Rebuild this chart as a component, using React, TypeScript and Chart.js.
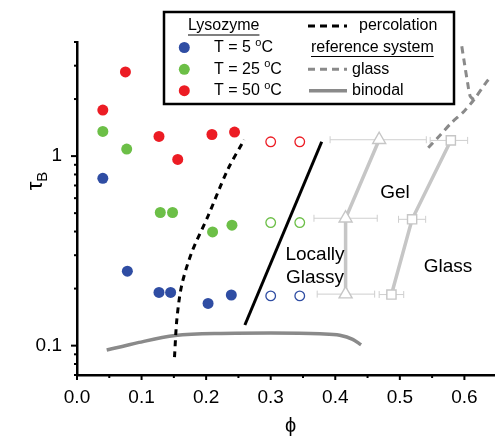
import React, { useEffect, useRef } from "react";
import { Chart, registerables } from "chart.js";
Chart.register(...registerables);

// Lysozyme data (filled circles)
const lyso5Phi = [0.04, 0.078, 0.127, 0.145, 0.203, 0.239];
const lyso5Tau = [0.763, 0.247, 0.191, 0.191, 0.167, 0.185];
const lyso25Phi = [0.04, 0.077, 0.129, 0.148, 0.21, 0.24];
const lyso25Tau = [1.35, 1.09, 0.504, 0.504, 0.398, 0.432];
const lyso50Phi = [0.04, 0.075, 0.127, 0.156, 0.209, 0.244];
const lyso50Tau = [1.75, 2.78, 1.27, 0.96, 1.3, 1.34];
// open circles
const openPhi = [0.3, 0.345];
const open5Tau = [0.183, 0.183];
const open25Tau = [0.446, 0.446];
const open50Tau = [1.19, 1.19];
// reference gel (triangles) and glass (squares) with horizontal error bars
const gelPhi = [0.468, 0.416, 0.416];
const gelTau = [1.22, 0.47, 0.187];
const gelPhiLow = [0.392, 0.367, 0.372];
const gelPhiHigh = [0.541, 0.465, 0.461];
const glassPhi = [0.579, 0.519, 0.487];
const glassTau = [1.21, 0.464, 0.186];
const glassPhiLow = [0.547, 0.498, 0.468];
const glassPhiHigh = [0.605, 0.54, 0.506];
// lines
const percPhi = [0.151, 0.1547, 0.162, 0.1776, 0.203, 0.2336, 0.259];
const percTau = [0.0869, 0.138, 0.207, 0.31, 0.483, 0.851, 1.22];
const locGlassyPhi = [0.26, 0.379];
const locGlassyTau = [0.1285, 1.19];
const binodalPhi = [0.046, 0.07, 0.096, 0.152, 0.223, 0.3, 0.376, 0.407, 0.427, 0.44];
const binodalTau = [0.0949, 0.099, 0.104, 0.113, 0.116, 0.1165, 0.1155, 0.1135, 0.108, 0.101];
const refGlassPhiA = [0.544, 0.562, 0.58, 0.6, 0.615, 0.633, 0.638];
const refGlassTauA = [1.107, 1.285, 1.5, 1.73, 1.99, 2.43, 2.55];
const refGlassPhiB = [0.614, 0.609, 0.605, 0.6, 0.595];
const refGlassTauB = [1.99, 2.07, 2.43, 3.1, 3.98];
// ticks
const xMajorTicks = [0, 0.1, 0.2, 0.3, 0.4, 0.5, 0.6];
const xMinorTicks = [0.05, 0.15, 0.25, 0.35, 0.45, 0.55];
const yMajorTicks = [0.1, 1];
const yMinorTicks = [0.07, 0.08, 0.09, 0.2, 0.3, 0.4, 0.5, 0.6, 0.7, 0.8, 0.9, 2, 3, 4];

const BLUE = "#2f4da3";
const GREEN = "#6cbf47";
const RED = "#ec1c24";
const LGRAY = "#c6c6c6";
const DGRAY = "#8a8a8a";
const FONT = "'Liberation Sans', Arial, sans-serif";

const pts = (xs: number[], ys: number[]) => xs.map((x, i) => ({ x, y: ys[i] }));

export default function App() {
  const ref = useRef<HTMLCanvasElement>(null);
  useEffect(() => {
    const canvas = ref.current!;
    const dec = {
      id: "dec",
      beforeDatasetsDraw(chart: any) {
        const ctx = chart.ctx;
        const xs = chart.scales.x, ys = chart.scales.y;
        ctx.save();
        ctx.strokeStyle = "#cfcfcf";
        ctx.lineWidth = 1;
        const bars = (p: number[], t: number[], lo: number[], hi: number[]) => {
          p.forEach((_, i) => {
            const y = ys.getPixelForValue(t[i]);
            const x1 = xs.getPixelForValue(lo[i]);
            const x2 = xs.getPixelForValue(hi[i]);
            ctx.beginPath();
            ctx.moveTo(x1, y); ctx.lineTo(x2, y);
            ctx.moveTo(x1, y - 3.5); ctx.lineTo(x1, y + 3.5);
            ctx.moveTo(x2, y - 3.5); ctx.lineTo(x2, y + 3.5);
            ctx.stroke();
          });
        };
        bars(gelPhi, gelTau, gelPhiLow, gelPhiHigh);
        bars(glassPhi, glassTau, glassPhiLow, glassPhiHigh);
        ctx.restore();
      },
      afterDraw(chart: any) {
        const ctx = chart.ctx;
        const xs = chart.scales.x, ys = chart.scales.y;
        const ca = chart.chartArea;
        ctx.save();
        // tick marks
        ctx.strokeStyle = "#000";
        ctx.lineWidth = 2;
        xMajorTicks.forEach((v) => {
          const x = xs.getPixelForValue(v);
          ctx.beginPath(); ctx.moveTo(x, ca.bottom); ctx.lineTo(x, ca.bottom + 5); ctx.stroke();
        });
        xMinorTicks.forEach((v) => {
          const x = xs.getPixelForValue(v);
          ctx.beginPath(); ctx.moveTo(x, ca.bottom); ctx.lineTo(x, ca.bottom + 3); ctx.stroke();
        });
        yMajorTicks.forEach((v) => {
          const y = ys.getPixelForValue(v);
          ctx.beginPath(); ctx.moveTo(ca.left, y); ctx.lineTo(ca.left - 6, y); ctx.stroke();
        });
        yMinorTicks.forEach((v) => {
          const y = ys.getPixelForValue(v);
          ctx.beginPath(); ctx.moveTo(ca.left, y); ctx.lineTo(ca.left - 3, y); ctx.stroke();
        });
        // axis titles
        ctx.fillStyle = "#000";
        ctx.textAlign = "center";
        ctx.textBaseline = "middle";
        ctx.font = `20px ${FONT}`;
        ctx.fillText("\u03D5", (ca.left + ca.right) / 2 + 5, 426);
        ctx.save();
        ctx.translate(38, 181);
        ctx.rotate(-Math.PI / 2);
        ctx.textAlign = "left";
        ctx.font = `22px ${FONT}`;
        const tw = ctx.measureText("\u03C4").width;
        ctx.font = `15px ${FONT}`;
        const bw = ctx.measureText("B").width;
        const start = -(tw + bw) / 2;
        ctx.font = `22px ${FONT}`;
        ctx.fillText("\u03C4", start, -2);
        ctx.font = `15px ${FONT}`;
        ctx.fillText("B", start + tw, 5);
        ctx.restore();
        // region annotations
        ctx.font = `19px ${FONT}`;
        ctx.textAlign = "center";
        ctx.fillText("Gel", 395, 193);
        ctx.fillText("Locally", 315, 255);
        ctx.fillText("Glassy", 315, 278);
        ctx.fillText("Glass", 448, 267);
        // legend
        ctx.fillStyle = "#fff";
        ctx.fillRect(164, 12, 290, 92);
        ctx.strokeStyle = "#000";
        ctx.lineWidth = 2.5;
        ctx.strokeRect(164, 12, 290, 92);
        ctx.fillStyle = "#000";
        ctx.textAlign = "left";
        ctx.textBaseline = "middle";
        ctx.font = `16px ${FONT}`;
        const underline = (txt: string, x: number, y: number) => {
          ctx.fillText(txt, x, y);
          const w = ctx.measureText(txt).width;
          ctx.lineWidth = 1.2;
          ctx.beginPath(); ctx.moveTo(x, y + 9); ctx.lineTo(x + w, y + 9); ctx.stroke();
        };
        underline("Lysozyme", 188, 26);
        underline("reference system", 311, 47.5);
        const rows = [
          { c: BLUE, t: "5", y: 47.5 },
          { c: GREEN, t: "25", y: 69.3 },
          { c: RED, t: "50", y: 90.7 },
        ];
        rows.forEach((r) => {
          ctx.fillStyle = r.c;
          ctx.beginPath(); ctx.arc(184.3, r.y, 5.5, 0, Math.PI * 2); ctx.fill();
          ctx.fillStyle = "#000";
          ctx.font = `16px ${FONT}`;
          const s = `T = ${r.t} `;
          ctx.fillText(s, 214, r.y);
          let x = 214 + ctx.measureText(s).width;
          ctx.font = `11px ${FONT}`;
          ctx.fillText("o", x, r.y - 5);
          x += ctx.measureText("o").width;
          ctx.font = `16px ${FONT}`;
          ctx.fillText("C", x, r.y);
        });
        ctx.fillText("percolation", 359, 26);
        ctx.fillText("glass", 352, 69.3);
        ctx.fillText("binodal", 352, 90.7);
        ctx.lineWidth = 3;
        ctx.setLineDash([7, 5]);
        ctx.strokeStyle = "#000";
        ctx.beginPath(); ctx.moveTo(308, 26); ctx.lineTo(347, 26); ctx.stroke();
        ctx.strokeStyle = DGRAY;
        ctx.beginPath(); ctx.moveTo(308, 69.3); ctx.lineTo(347, 69.3); ctx.stroke();
        ctx.setLineDash([]);
        ctx.lineWidth = 3.5;
        ctx.beginPath(); ctx.moveTo(309, 90.7); ctx.lineTo(347, 90.7); ctx.stroke();
        ctx.restore();
      },
    };

    const filled = (d: any, c: string) => ({
      data: d, backgroundColor: c, borderColor: c, pointRadius: 5.5, borderWidth: 0, showLine: false,
    });
    const open = (d: any, c: string) => ({
      data: d, backgroundColor: "#fff", borderColor: c, pointRadius: 4.8, borderWidth: 1.3, showLine: false,
    });
    const line = (d: any, c: string, w: number, dash: number[], tension = 0, mono = false) => ({
      data: d, borderColor: c, backgroundColor: c, borderWidth: w, borderDash: dash,
      pointRadius: 0, showLine: true, tension, cubicInterpolationMode: mono ? "monotone" : "default",
    });

    const chart = new Chart(canvas, {
      type: "scatter",
      data: {
        datasets: [
          filled(pts(lyso5Phi, lyso5Tau), BLUE),
          filled(pts(lyso25Phi, lyso25Tau), GREEN),
          filled(pts(lyso50Phi, lyso50Tau), RED),
          open(pts(openPhi, open5Tau), BLUE),
          open(pts(openPhi, open25Tau), GREEN),
          open(pts(openPhi, open50Tau), RED),
          {
            data: pts(gelPhi, gelTau), showLine: true, borderColor: LGRAY, borderWidth: 3.5,
            pointStyle: "triangle", pointRadius: 7.5, pointBorderWidth: 1.4,
            pointBackgroundColor: "#fff", pointBorderColor: LGRAY,
          },
          {
            data: pts(glassPhi, glassTau), showLine: true, borderColor: LGRAY, borderWidth: 3.5,
            pointStyle: "rect", pointRadius: 6.5, pointBorderWidth: 1.4,
            pointBackgroundColor: "#fff", pointBorderColor: LGRAY,
          },
          line(pts(percPhi, percTau), "#000", 3, [6, 5], 0.3),
          line(pts(locGlassyPhi, locGlassyTau), "#000", 3, []),
          line(pts(binodalPhi, binodalTau), DGRAY, 3.5, [], 0.4, true),
          line(pts(refGlassPhiA, refGlassTauA), DGRAY, 3, [7, 5], 0.3),
          line(pts(refGlassPhiB, refGlassTauB), DGRAY, 3, [7, 5], 0.3),
        ] as any,
      },
      options: {
        animation: false,
        responsive: false,
        devicePixelRatio: 1,
        clip: false as any,
        layout: { padding: { top: 42, right: 3, left: 0, bottom: 0 } },
        plugins: { legend: { display: false }, tooltip: { enabled: false } },
        scales: {
          x: {
            type: "linear",
            min: 0,
            max: 0.646,
            afterFit: (s: any) => { s.height = 62; },
            afterBuildTicks: (s: any) => { s.ticks = xMajorTicks.map((v) => ({ value: v })); },
            grid: { display: false, drawTicks: false },
            border: { display: true, color: "#000", width: 2.5 },
            ticks: {
              padding: 11,
              color: "#000",
              font: { family: FONT, size: 19 },
              callback: (v: any) => Number(v).toFixed(1),
            },
          },
          y: {
            type: "logarithmic",
            min: 0.07,
            max: 4,
            afterFit: (s: any) => { s.width = 77; },
            afterBuildTicks: (s: any) => { s.ticks = yMajorTicks.map((v) => ({ value: v })); },
            grid: { display: false, drawTicks: false },
            border: { display: true, color: "#000", width: 2.5 },
            ticks: {
              padding: 15,
              color: "#000",
              font: { family: FONT, size: 19 },
              callback: (v: any) => (Number(v) >= 0.5 ? "1" : "0.1"),
            },
          },
        },
      },
      plugins: [dec],
    });
    return () => chart.destroy();
  }, []);
  return (
    <div style={{ position: "absolute", left: 0, top: 0, width: 503, height: 437, background: "#fff" }}>
      <canvas ref={ref} width={503} height={437} style={{ width: 503, height: 437 }} />
    </div>
  );
}
